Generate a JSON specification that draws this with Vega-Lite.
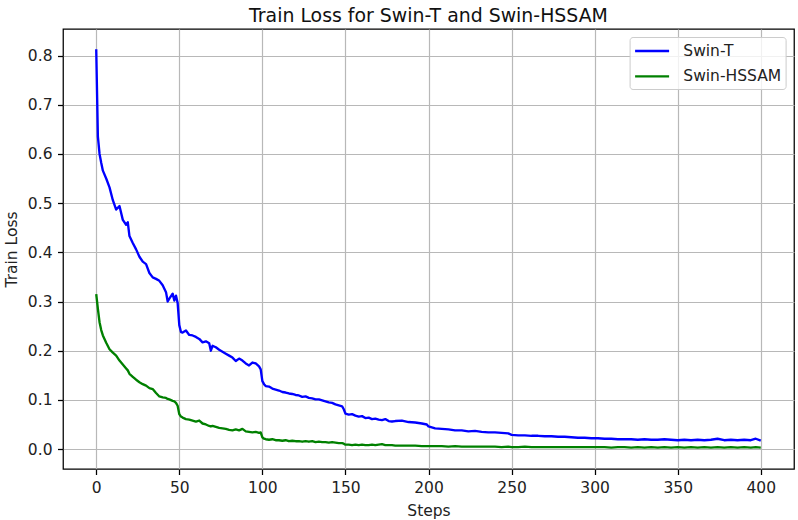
{
  "$schema": "https://vega.github.io/schema/vega-lite/v6.json",
  "autosize": {"type": "none"},
  "padding": {"left": 63, "top": 29, "right": 4, "bottom": 51},
  "width": 731,
  "height": 440,
  "background": "white",
  "title": {"text": "Train Loss for Swin-T and Swin-HSSAM", "fontSize": 18.9, "font": "DejaVu Sans", "fontWeight": "normal", "color": "#111", "anchor": "middle", "baseline": "bottom", "offset": 5, "dy": 21},
  "data": {"values": [
    {"step":0,"Swin-T":0.813,"Swin-HSSAM":0.315},
    {"step":1,"Swin-T":0.635,"Swin-HSSAM":0.285},
    {"step":2,"Swin-T":0.600,"Swin-HSSAM":0.258},
    {"step":3,"Swin-T":0.582,"Swin-HSSAM":0.242},
    {"step":4,"Swin-T":0.566,"Swin-HSSAM":0.231},
    {"step":6,"Swin-T":0.550,"Swin-HSSAM":0.216},
    {"step":8,"Swin-T":0.532,"Swin-HSSAM":0.203},
    {"step":10,"Swin-T":0.506,"Swin-HSSAM":0.196},
    {"step":12,"Swin-T":0.487,"Swin-HSSAM":0.190},
    {"step":14,"Swin-T":0.494,"Swin-HSSAM":0.180},
    {"step":16,"Swin-T":0.466,"Swin-HSSAM":0.172},
    {"step":18,"Swin-T":0.456,"Swin-HSSAM":0.164},
    {"step":19,"Swin-T":0.461,"Swin-HSSAM":0.160},
    {"step":20,"Swin-T":0.433,"Swin-HSSAM":0.153},
    {"step":22,"Swin-T":0.419,"Swin-HSSAM":0.147},
    {"step":24,"Swin-T":0.406,"Swin-HSSAM":0.141},
    {"step":26,"Swin-T":0.391,"Swin-HSSAM":0.136},
    {"step":28,"Swin-T":0.381,"Swin-HSSAM":0.132},
    {"step":30,"Swin-T":0.376,"Swin-HSSAM":0.129},
    {"step":32,"Swin-T":0.358,"Swin-HSSAM":0.124},
    {"step":34,"Swin-T":0.349,"Swin-HSSAM":0.122},
    {"step":36,"Swin-T":0.346,"Swin-HSSAM":0.114},
    {"step":38,"Swin-T":0.342,"Swin-HSSAM":0.107},
    {"step":40,"Swin-T":0.333,"Swin-HSSAM":0.105},
    {"step":42,"Swin-T":0.319,"Swin-HSSAM":0.104},
    {"step":43,"Swin-T":0.300,"Swin-HSSAM":0.102},
    {"step":44,"Swin-T":0.306,"Swin-HSSAM":0.101},
    {"step":46,"Swin-T":0.316,"Swin-HSSAM":0.098},
    {"step":47,"Swin-T":0.302,"Swin-HSSAM":0.097},
    {"step":48,"Swin-T":0.312,"Swin-HSSAM":0.094},
    {"step":49,"Swin-T":0.297,"Swin-HSSAM":0.088},
    {"step":50,"Swin-T":0.252,"Swin-HSSAM":0.071},
    {"step":51,"Swin-T":0.238,"Swin-HSSAM":0.066},
    {"step":52,"Swin-T":0.237,"Swin-HSSAM":0.064},
    {"step":54,"Swin-T":0.241,"Swin-HSSAM":0.061},
    {"step":56,"Swin-T":0.232,"Swin-HSSAM":0.060},
    {"step":58,"Swin-T":0.231,"Swin-HSSAM":0.058},
    {"step":60,"Swin-T":0.228,"Swin-HSSAM":0.056},
    {"step":62,"Swin-T":0.224,"Swin-HSSAM":0.058},
    {"step":64,"Swin-T":0.217,"Swin-HSSAM":0.052},
    {"step":66,"Swin-T":0.219,"Swin-HSSAM":0.050},
    {"step":68,"Swin-T":0.215,"Swin-HSSAM":0.047},
    {"step":69,"Swin-T":0.200,"Swin-HSSAM":0.046},
    {"step":70,"Swin-T":0.210,"Swin-HSSAM":0.047},
    {"step":72,"Swin-T":0.207,"Swin-HSSAM":0.045},
    {"step":74,"Swin-T":0.202,"Swin-HSSAM":0.043},
    {"step":76,"Swin-T":0.198,"Swin-HSSAM":0.042},
    {"step":78,"Swin-T":0.194,"Swin-HSSAM":0.041},
    {"step":80,"Swin-T":0.190,"Swin-HSSAM":0.039},
    {"step":82,"Swin-T":0.186,"Swin-HSSAM":0.038},
    {"step":84,"Swin-T":0.179,"Swin-HSSAM":0.040},
    {"step":86,"Swin-T":0.184,"Swin-HSSAM":0.038},
    {"step":88,"Swin-T":0.180,"Swin-HSSAM":0.041},
    {"step":90,"Swin-T":0.174,"Swin-HSSAM":0.036},
    {"step":92,"Swin-T":0.170,"Swin-HSSAM":0.035},
    {"step":94,"Swin-T":0.176,"Swin-HSSAM":0.034},
    {"step":96,"Swin-T":0.174,"Swin-HSSAM":0.035},
    {"step":98,"Swin-T":0.168,"Swin-HSSAM":0.033},
    {"step":99,"Swin-T":0.162,"Swin-HSSAM":0.034},
    {"step":100,"Swin-T":0.138,"Swin-HSSAM":0.024},
    {"step":101,"Swin-T":0.132,"Swin-HSSAM":0.021},
    {"step":102,"Swin-T":0.128,"Swin-HSSAM":0.020},
    {"step":104,"Swin-T":0.127,"Swin-HSSAM":0.019},
    {"step":106,"Swin-T":0.123,"Swin-HSSAM":0.020},
    {"step":108,"Swin-T":0.121,"Swin-HSSAM":0.018},
    {"step":110,"Swin-T":0.119,"Swin-HSSAM":0.018},
    {"step":112,"Swin-T":0.116,"Swin-HSSAM":0.017},
    {"step":114,"Swin-T":0.115,"Swin-HSSAM":0.018},
    {"step":116,"Swin-T":0.113,"Swin-HSSAM":0.016},
    {"step":118,"Swin-T":0.112,"Swin-HSSAM":0.017},
    {"step":120,"Swin-T":0.110,"Swin-HSSAM":0.016},
    {"step":122,"Swin-T":0.109,"Swin-HSSAM":0.016},
    {"step":124,"Swin-T":0.106,"Swin-HSSAM":0.015},
    {"step":126,"Swin-T":0.107,"Swin-HSSAM":0.016},
    {"step":128,"Swin-T":0.104,"Swin-HSSAM":0.015},
    {"step":130,"Swin-T":0.103,"Swin-HSSAM":0.016},
    {"step":132,"Swin-T":0.101,"Swin-HSSAM":0.014},
    {"step":134,"Swin-T":0.101,"Swin-HSSAM":0.015},
    {"step":136,"Swin-T":0.099,"Swin-HSSAM":0.014},
    {"step":138,"Swin-T":0.097,"Swin-HSSAM":0.014},
    {"step":140,"Swin-T":0.095,"Swin-HSSAM":0.013},
    {"step":142,"Swin-T":0.094,"Swin-HSSAM":0.014},
    {"step":144,"Swin-T":0.091,"Swin-HSSAM":0.013},
    {"step":146,"Swin-T":0.089,"Swin-HSSAM":0.012},
    {"step":148,"Swin-T":0.087,"Swin-HSSAM":0.012},
    {"step":149,"Swin-T":0.081,"Swin-HSSAM":0.011},
    {"step":150,"Swin-T":0.072,"Swin-HSSAM":0.009},
    {"step":152,"Swin-T":0.070,"Swin-HSSAM":0.009},
    {"step":154,"Swin-T":0.071,"Swin-HSSAM":0.008},
    {"step":156,"Swin-T":0.068,"Swin-HSSAM":0.009},
    {"step":158,"Swin-T":0.066,"Swin-HSSAM":0.008},
    {"step":160,"Swin-T":0.067,"Swin-HSSAM":0.009},
    {"step":162,"Swin-T":0.063,"Swin-HSSAM":0.008},
    {"step":164,"Swin-T":0.064,"Swin-HSSAM":0.008},
    {"step":166,"Swin-T":0.061,"Swin-HSSAM":0.009},
    {"step":168,"Swin-T":0.062,"Swin-HSSAM":0.008},
    {"step":170,"Swin-T":0.060,"Swin-HSSAM":0.009},
    {"step":172,"Swin-T":0.059,"Swin-HSSAM":0.010},
    {"step":174,"Swin-T":0.061,"Swin-HSSAM":0.008},
    {"step":176,"Swin-T":0.057,"Swin-HSSAM":0.008},
    {"step":178,"Swin-T":0.056,"Swin-HSSAM":0.008},
    {"step":180,"Swin-T":0.057,"Swin-HSSAM":0.007},
    {"step":184,"Swin-T":0.058,"Swin-HSSAM":0.007},
    {"step":188,"Swin-T":0.055,"Swin-HSSAM":0.007},
    {"step":192,"Swin-T":0.054,"Swin-HSSAM":0.007},
    {"step":196,"Swin-T":0.052,"Swin-HSSAM":0.006},
    {"step":199,"Swin-T":0.050,"Swin-HSSAM":0.006},
    {"step":200,"Swin-T":0.046,"Swin-HSSAM":0.006},
    {"step":204,"Swin-T":0.042,"Swin-HSSAM":0.006},
    {"step":208,"Swin-T":0.041,"Swin-HSSAM":0.006},
    {"step":212,"Swin-T":0.040,"Swin-HSSAM":0.005},
    {"step":216,"Swin-T":0.038,"Swin-HSSAM":0.006},
    {"step":220,"Swin-T":0.038,"Swin-HSSAM":0.005},
    {"step":224,"Swin-T":0.036,"Swin-HSSAM":0.005},
    {"step":228,"Swin-T":0.037,"Swin-HSSAM":0.005},
    {"step":232,"Swin-T":0.035,"Swin-HSSAM":0.005},
    {"step":236,"Swin-T":0.034,"Swin-HSSAM":0.005},
    {"step":240,"Swin-T":0.034,"Swin-HSSAM":0.005},
    {"step":244,"Swin-T":0.033,"Swin-HSSAM":0.004},
    {"step":248,"Swin-T":0.032,"Swin-HSSAM":0.005},
    {"step":250,"Swin-T":0.029,"Swin-HSSAM":0.004},
    {"step":254,"Swin-T":0.028,"Swin-HSSAM":0.004},
    {"step":258,"Swin-T":0.028,"Swin-HSSAM":0.005},
    {"step":262,"Swin-T":0.027,"Swin-HSSAM":0.004},
    {"step":266,"Swin-T":0.027,"Swin-HSSAM":0.004},
    {"step":270,"Swin-T":0.026,"Swin-HSSAM":0.004},
    {"step":274,"Swin-T":0.026,"Swin-HSSAM":0.004},
    {"step":278,"Swin-T":0.025,"Swin-HSSAM":0.004},
    {"step":282,"Swin-T":0.025,"Swin-HSSAM":0.004},
    {"step":286,"Swin-T":0.024,"Swin-HSSAM":0.004},
    {"step":290,"Swin-T":0.023,"Swin-HSSAM":0.004},
    {"step":294,"Swin-T":0.023,"Swin-HSSAM":0.004},
    {"step":298,"Swin-T":0.022,"Swin-HSSAM":0.004},
    {"step":302,"Swin-T":0.022,"Swin-HSSAM":0.004},
    {"step":306,"Swin-T":0.021,"Swin-HSSAM":0.004},
    {"step":310,"Swin-T":0.021,"Swin-HSSAM":0.003},
    {"step":314,"Swin-T":0.020,"Swin-HSSAM":0.004},
    {"step":318,"Swin-T":0.020,"Swin-HSSAM":0.004},
    {"step":322,"Swin-T":0.020,"Swin-HSSAM":0.003},
    {"step":326,"Swin-T":0.019,"Swin-HSSAM":0.004},
    {"step":330,"Swin-T":0.020,"Swin-HSSAM":0.003},
    {"step":334,"Swin-T":0.019,"Swin-HSSAM":0.004},
    {"step":338,"Swin-T":0.019,"Swin-HSSAM":0.003},
    {"step":342,"Swin-T":0.020,"Swin-HSSAM":0.004},
    {"step":346,"Swin-T":0.019,"Swin-HSSAM":0.003},
    {"step":350,"Swin-T":0.018,"Swin-HSSAM":0.004},
    {"step":354,"Swin-T":0.019,"Swin-HSSAM":0.003},
    {"step":358,"Swin-T":0.018,"Swin-HSSAM":0.004},
    {"step":362,"Swin-T":0.019,"Swin-HSSAM":0.003},
    {"step":366,"Swin-T":0.018,"Swin-HSSAM":0.004},
    {"step":370,"Swin-T":0.019,"Swin-HSSAM":0.003},
    {"step":374,"Swin-T":0.021,"Swin-HSSAM":0.004},
    {"step":378,"Swin-T":0.018,"Swin-HSSAM":0.003},
    {"step":382,"Swin-T":0.019,"Swin-HSSAM":0.004},
    {"step":386,"Swin-T":0.018,"Swin-HSSAM":0.003},
    {"step":390,"Swin-T":0.019,"Swin-HSSAM":0.004},
    {"step":394,"Swin-T":0.018,"Swin-HSSAM":0.003},
    {"step":397,"Swin-T":0.021,"Swin-HSSAM":0.004},
    {"step":400,"Swin-T":0.017,"Swin-HSSAM":0.003}
  ]},
  "transform": [{"fold": ["Swin-T", "Swin-HSSAM"], "as": ["model", "loss"]}],
  "mark": {"type": "line", "strokeWidth": 2.35, "strokeJoin": "round", "clip": true},
  "encoding": {
    "x": {"field": "step", "type": "quantitative",
      "scale": {"domain": [-20, 420], "nice": false, "zero": false},
      "axis": {"title": "Steps", "values": [0,50,100,150,200,250,300,350,400], "format": "d",
        "titleX": 365.5, "titleY": 46, "titleBaseline": "alphabetic", "titleAlign": "center", "titleAnchor": null}},
    "y": {"field": "loss", "type": "quantitative",
      "scale": {"domain": [-0.0405, 0.854], "nice": false, "zero": false},
      "axis": {"title": "Train Loss", "values": [0,0.1,0.2,0.3,0.4,0.5,0.6,0.7,0.8], "format": ".1f",
        "titleX": -52, "titleY": 220, "titleBaseline": "middle", "titleAlign": "center", "titleAngle": -90}},
    "color": {"field": "model", "type": "nominal",
      "scale": {"domain": ["Swin-T", "Swin-HSSAM"], "range": ["#0000ff", "#008000"]},
      "legend": {"title": null, "orient": "none", "legendX": 566.6, "legendY": 8}}
  },
  "config": {
    "font": "DejaVu Sans",
    "view": {"stroke": "#000000", "strokeWidth": 1.26},
    "axis": {
      "domain": false,
      "grid": true, "gridColor": "#b8b8b8", "gridWidth": 1.2,
      "ticks": true, "tickColor": "#000000", "tickWidth": 1.26, "tickSize": 5.5,
      "labelFont": "DejaVu Sans", "labelFontSize": 15.5, "labelColor": "#222222", "labelPadding": 5.5,
      "titleFont": "DejaVu Sans", "titleFontSize": 15.5, "titleFontWeight": "normal", "titleColor": "#222222"
    },
    "axisX": {"labelPadding": 6},
    "legend": {
      "labelFont": "DejaVu Sans", "labelFontSize": 15.5, "labelColor": "#222222",
      "symbolType": "M-1,0L3,0", "symbolSize": 289, "symbolStrokeWidth": 2.35,
      "labelOffset": 29.7, "padding": 4, "rowPadding": 6.4,
      "strokeColor": "#cccccc", "fillColor": "rgba(255,255,255,0.8)", "cornerRadius": 3
    }
  }
}
